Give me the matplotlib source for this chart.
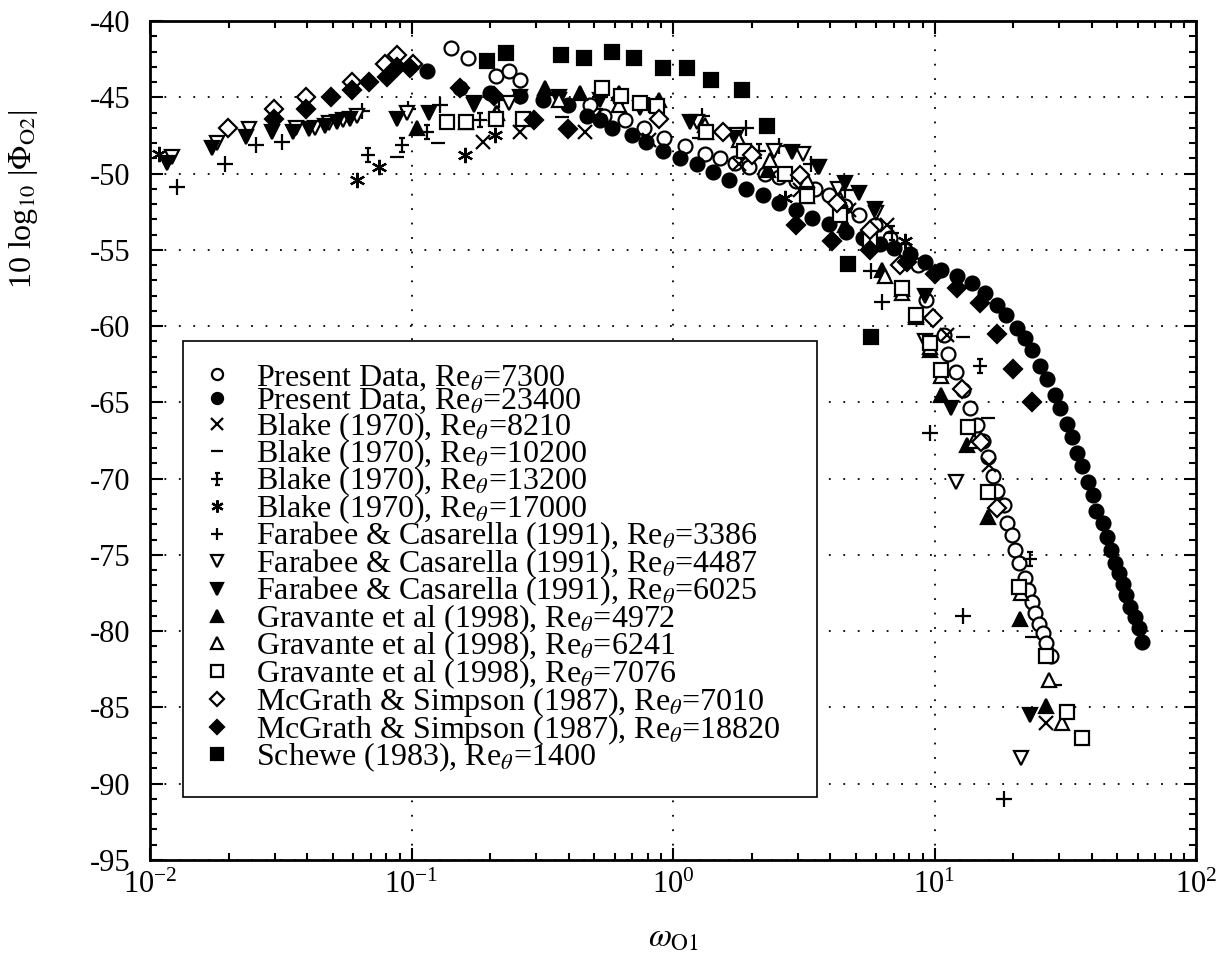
import numpy as np
import matplotlib
matplotlib.use('Agg')
import matplotlib.pyplot as plt
from matplotlib.path import Path

plt.rcParams['font.family'] = ['Liberation Serif', 'DejaVu Serif']
plt.rcParams['mathtext.fontset'] = 'stix'
plt.rcParams['axes.unicode_minus'] = False

# Present Data, Re=7300 (open circles)
pd7300_x = [0.142, 0.165, 0.211, 0.235, 0.259, 0.480, 0.547, 0.653, 0.778, 0.927, 1.11, 1.32, 1.51, 1.72,
            1.96, 2.24, 2.55, 2.96, 3.48, 3.96, 4.53, 5.16, 5.90, 6.73, 7.69, 8.63, 9.25, 10.9, 11.3, 12.1,
            12.8, 13.7, 14.5, 15.3, 16.0, 16.7, 17.4, 18.5, 19.0, 19.7, 20.4, 21.1, 22.1, 22.7, 23.7, 24.3,
            25.0, 25.9, 26.8, 28.0]
pd7300_y = [-41.8, -42.4, -43.6, -43.3, -43.9, -45.5, -46.2, -46.5, -47.0, -47.7, -48.2, -48.7, -49.0, -49.3,
            -49.6, -50.0, -50.2, -50.5, -51.0, -51.4, -52.1, -52.7, -53.4, -54.2, -55.0, -56.0, -58.3, -60.6,
            -61.8, -63.0, -64.2, -65.4, -66.5, -67.5, -68.6, -69.8, -70.8, -71.7, -72.9, -73.7, -74.7, -75.5,
            -76.5, -77.3, -78.1, -78.8, -79.5, -80.1, -80.8, -81.6]

# Present Data, Re=23400 (filled circles)
pd23400_x = [0.115, 0.153, 0.199, 0.259, 0.317, 0.398, 0.467, 0.524, 0.586, 0.700, 0.791, 0.912, 1.06, 1.23,
             1.42, 1.64, 1.91, 2.20, 2.55, 2.96, 3.41, 3.96, 4.60, 5.31, 6.17, 7.03, 8.03, 9.16, 10.6, 12.2,
             13.9, 15.6, 17.3, 18.8, 20.6, 22.1, 23.7, 25.4, 27.0, 28.8, 30.3, 32.0, 33.7, 35.2, 36.8, 38.5,
             40.2, 41.6, 43.9, 45.5, 47.5, 48.8, 50.9, 52.4, 54.2, 56.1, 58.2, 60.3, 62.4]
pd23400_y = [-43.3, -44.4, -44.7, -44.9, -45.2, -45.5, -46.2, -46.5, -47.0, -47.5, -47.9, -48.5, -49.0, -49.4,
             -49.9, -50.4, -51.0, -51.4, -51.9, -52.4, -52.9, -53.3, -53.8, -54.2, -54.6, -54.9, -55.3, -55.8,
             -56.3, -56.7, -57.2, -57.8, -58.6, -59.3, -60.1, -60.8, -61.6, -62.6, -63.5, -64.5, -65.4, -66.4,
             -67.3, -68.3, -69.2, -70.2, -71.1, -72.1, -72.9, -73.8, -74.7, -75.5, -76.2, -76.9, -77.6, -78.4,
             -79.1, -79.8, -80.7]

# Blake (1970)
b8210_x = [0.187, 0.259, 0.459, 0.813, 1.79, 3.05, 4.73, 6.56, 11.2, 16.2, 26.8]
b8210_y = [-47.9, -47.3, -47.3, -47.8, -49.4, -51.1, -52.4, -53.4, -60.6, -69.1, -86.0]
b10200_x = [0.0877, 0.126, 0.375, 1.26, 3.05, 12.8, 16.0, 23.5, 28.8]
b10200_y = [-48.9, -48.0, -46.3, -47.7, -50.1, -60.7, -66.0, -80.4, -83.5]
b13200_x = [0.0679, 0.0916, 0.115, 0.182, 0.524, 2.14, 6.90, 14.9, 23.1]
b13200_y = [-48.8, -48.1, -47.3, -46.5, -46.2, -48.5, -53.9, -62.6, -75.3]
b17000_x = [0.0108, 0.0621, 0.0748, 0.160, 0.209, 2.67, 7.69]
b17000_y = [-48.7, -50.4, -49.6, -48.8, -47.5, -51.6, -54.4]

# Farabee & Casarella (1991)
f3386_x = [0.0127, 0.0193, 0.0255, 0.0321, 0.0645, 0.0966, 0.128, 0.217, 0.524, 0.813, 1.29, 1.91, 2.55,
           3.36, 4.53, 5.74, 6.32, 9.57, 12.8, 18.5]
f3386_y = [-50.9, -49.4, -48.1, -47.9, -45.9, -45.8, -45.5, -45.2, -45.0, -45.5, -46.2, -47.0, -48.2,
           -49.4, -51.1, -56.4, -58.4, -67.0, -79.0, -91.0]
f4487_x = [0.0121, 0.0181, 0.0240, 0.0363, 0.0426, 0.0485, 0.0545, 0.0617, 0.0957, 0.174, 0.237, 0.368,
           0.624, 1.23, 1.75, 2.44, 3.13, 3.57, 4.26, 6.00, 9.16, 12.1, 21.5]
f4487_y = [-48.9, -48.0, -47.1, -47.0, -47.0, -46.7, -46.5, -46.2, -46.0, -45.5, -45.4, -45.2,
           -45.5, -46.6, -47.5, -48.5, -48.7, -49.6, -51.0, -52.6, -61.0, -70.2, -88.3]
f6025_x = [0.0116, 0.0173, 0.0232, 0.0292, 0.0351, 0.0407, 0.0465, 0.0521, 0.0580, 0.0877, 0.117, 0.174,
           0.259, 0.368, 0.524, 0.745, 1.16, 1.72, 2.86, 3.63, 4.53, 5.16, 5.90, 9.16, 11.6, 23.1]
f6025_y = [-49.3, -48.3, -47.6, -47.3, -47.3, -47.1, -46.9, -46.6, -46.4, -46.4, -46.0, -45.4,
           -45.0, -45.0, -45.2, -45.7, -46.6, -47.7, -48.6, -49.6, -50.6, -51.3, -52.3, -58.0, -65.4, -85.5]

# Gravante et al (1998)
g4972_x = [0.105, 0.161, 0.211, 0.323, 0.440, 0.624, 0.887, 1.34, 2.30, 3.24, 4.53, 6.32, 7.48, 8.53, 9.57,
           10.6, 13.3, 16.0, 21.3, 26.8]
g4972_y = [-47.0, -46.6, -46.0, -44.4, -44.7, -44.7, -45.2, -47.3, -49.8, -51.5, -53.4, -56.3, -57.6, -59.3,
           -61.6, -64.5, -67.8, -72.5, -79.2, -84.9]
g6241_x = [0.213, 0.368, 0.624, 0.887, 1.32, 1.79, 2.34, 3.24, 4.34, 5.65, 6.44, 7.48, 8.53, 9.57, 10.6,
           14.2, 21.5, 27.5, 30.8]
g6241_y = [-46.0, -45.2, -45.5, -46.0, -46.8, -47.8, -49.1, -50.4, -51.7, -54.4, -56.7, -57.8, -59.4, -61.4,
           -63.3, -67.5, -77.5, -83.2, -86.0]
g7076_x = [0.137, 0.161, 0.211, 0.268, 0.537, 0.635, 0.745, 0.865, 1.34, 1.87, 2.67, 3.24, 4.34, 5.65, 7.48,
           8.53, 9.57, 10.6, 13.4, 16.0, 21.1, 26.8, 32.2, 36.5]
g7076_y = [-46.6, -46.6, -46.4, -46.4, -44.4, -44.9, -45.4, -45.6, -47.3, -48.5, -50.0, -51.5, -52.7, -54.4,
           -57.5, -59.3, -61.1, -62.9, -66.6, -70.9, -77.1, -81.6, -85.3, -87.0]

# McGrath & Simpson (1987)
m7010_x = [0.0198, 0.0297, 0.0396, 0.0590, 0.0789, 0.0883, 0.101, 0.887, 1.55, 2.00, 3.05, 4.22, 5.65, 7.35,
           9.83, 12.7, 15.1, 17.3]
m7010_y = [-47.0, -45.8, -45.0, -44.0, -42.8, -42.2, -42.8, -46.4, -47.3, -48.8, -50.1, -51.9, -53.7, -56.0,
           -59.5, -64.1, -67.6, -71.9]
m18820_x = [0.0297, 0.0396, 0.0494, 0.0594, 0.0690, 0.0804, 0.0877, 0.0991, 0.153, 0.207, 0.295, 0.395,
            2.96, 4.04, 5.65, 7.88, 10.0, 12.2, 14.9, 17.4, 19.9, 23.7]
m18820_y = [-46.4, -45.8, -45.0, -44.5, -44.0, -43.7, -43.0, -43.1, -44.4, -44.9, -46.5, -47.1,
            -53.4, -54.4, -55.0, -55.8, -56.6, -57.5, -58.5, -60.5, -62.8, -65.0]

# Schewe (1983)
s1400_x = [0.194, 0.229, 0.372, 0.455, 0.582, 0.707, 0.912, 1.13, 1.40, 1.83, 2.28, 4.65, 5.74]
s1400_y = [-42.6, -42.1, -42.2, -42.4, -42.0, -42.4, -43.1, -43.1, -43.9, -44.5, -46.9, -55.9, -60.7]

labels = [r'Present Data, Re$_\theta$=7300', r'Present Data, Re$_\theta$=23400',
          r'Blake (1970), Re$_\theta$=8210', r'Blake (1970), Re$_\theta$=10200',
          r'Blake (1970), Re$_\theta$=13200', r'Blake (1970), Re$_\theta$=17000',
          r'Farabee & Casarella (1991), Re$_\theta$=3386', r'Farabee & Casarella (1991), Re$_\theta$=4487',
          r'Farabee & Casarella (1991), Re$_\theta$=6025', r'Gravante et al (1998), Re$_\theta$=4972',
          r'Gravante et al (1998), Re$_\theta$=6241', r'Gravante et al (1998), Re$_\theta$=7076',
          r'McGrath & Simpson (1987), Re$_\theta$=7010', r'McGrath & Simpson (1987), Re$_\theta$=18820',
          r'Schewe (1983), Re$_\theta$=1400']

# plus sign with caps on the vertical bar
capped_plus = Path([(0, -1), (0, 1), (-1, 0), (1, 0), (-0.45, 1), (0.45, 1), (-0.45, -1), (0.45, -1)],
                   [Path.MOVETO, Path.LINETO] * 4)

# (x, y, marker, filled, size)
series = [
    (pd7300_x, pd7300_y, 'o', False, 10),
    (pd23400_x, pd23400_y, 'o', True, 10),
    (b8210_x, b8210_y, 'x', True, 10),
    (b10200_x, b10200_y, '_', True, 10),
    (b13200_x, b13200_y, capped_plus, True, 10),
    (b17000_x, b17000_y, (6, 2, 0), True, 11),
    (f3386_x, f3386_y, '+', True, 11),
    (f4487_x, f4487_y, 'v', False, 10.5),
    (f6025_x, f6025_y, 'v', True, 10.5),
    (g4972_x, g4972_y, '^', True, 10.5),
    (g6241_x, g6241_y, '^', False, 10.5),
    (g7076_x, g7076_y, 's', False, 10.5),
    (m7010_x, m7010_y, 'D', False, 9.5),
    (m18820_x, m18820_y, 'D', True, 9.5),
    (s1400_x, s1400_y, 's', True, 10.5),
]

fig = plt.figure(figsize=(12.25, 9.57), dpi=100)
ax = fig.add_axes([150 / 1225, 1 - 860 / 957, 1046 / 1225, 839 / 957])

for (x, y, m, filled, ms), lab in zip(series, labels):
    ax.plot(x, y, linestyle='none', marker=m, markersize=ms, markeredgewidth=1.6,
            markeredgecolor='black', markerfacecolor='black' if filled else 'white', label=lab)

ax.set_xscale('log')
ax.set_xlim(0.01, 100)
ax.set_ylim(-95, -40)
ax.set_yticks(np.arange(-95, -39, 5))
ax.set_yticks(np.arange(-95, -39, 1), minor=True)
ax.grid(True, which='major', color='black', linestyle=(0, (1, 7)), linewidth=1.3)
ax.tick_params(which='both', direction='in', top=True, right=True, labelsize=22, width=1.5)
ax.tick_params(which='major', length=9)
ax.tick_params(which='minor', length=5)
ax.tick_params(axis='y', pad=14)
ax.tick_params(axis='x', pad=8)
for sp in ax.spines.values():
    sp.set_linewidth(2)

ax.set_xlabel(r'$\omega_{\rm O1}$', fontsize=24)
ax.xaxis.set_label_coords(0.5, -0.075)
ax.set_ylabel(r'10 log$_{10}$ |$\Phi_{\rm O2}$|', fontsize=23)
ax.yaxis.set_label_coords(-0.105, 0.787)

leg = ax.legend(loc='upper left', bbox_to_anchor=(0.0315, 0.0, 0.606, 0.619), mode='expand',
                borderaxespad=0, fontsize=23, markerscale=0.8, handlelength=0.75, handletextpad=0.85,
                labelspacing=-0.19, borderpad=0.7, fancybox=False, framealpha=1, edgecolor='black')
leg.get_frame().set_linewidth(1.2)

plt.savefig('out.png', dpi=100)
